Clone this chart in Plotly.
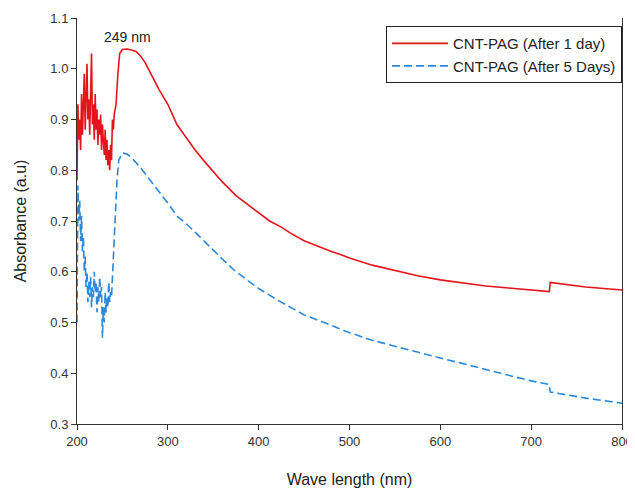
import plotly.graph_objects as go

# Wavelength (nm) and absorbance for CNT-PAG after 1 day
wl_day1 = [200, 201, 202, 203, 204, 205, 206, 207, 208, 209, 210, 211, 212, 213, 214, 215,
           216, 217, 218, 219, 220, 221, 222, 223, 224, 225, 226, 227, 228, 229, 230, 231,
           232, 233, 234, 235, 236, 237, 238, 239, 240, 241, 243, 245, 247, 250, 255, 260,
           265, 270, 275, 280, 290, 300, 310, 320, 330, 340, 350, 360, 375, 390, 400, 412,
           425, 435, 450, 465, 480, 490, 500, 525, 550, 575, 600, 625, 650, 675, 700, 720,
           721, 740, 760, 780, 800]
abs_day1 = [0.78, 0.93, 0.86, 0.90, 0.84, 0.95, 0.87, 0.92, 0.99, 0.88, 0.96, 1.01, 0.90, 0.94,
            0.87, 0.97, 1.03, 0.89, 0.93, 0.86, 0.95, 0.88, 0.92, 0.85, 0.90, 0.87, 0.91, 0.84,
            0.89, 0.86, 0.83, 0.88, 0.82, 0.86, 0.81, 0.84, 0.80, 0.85, 0.82, 0.90, 0.88, 0.91,
            0.93, 0.99, 1.03, 1.038, 1.039, 1.037, 1.034, 1.025, 1.012, 0.995, 0.96, 0.93, 0.89,
            0.865, 0.84, 0.818, 0.798, 0.777, 0.75, 0.73, 0.715, 0.70, 0.688, 0.676, 0.661, 0.65,
            0.64, 0.634, 0.627, 0.613, 0.602, 0.592, 0.584, 0.578, 0.572, 0.568, 0.564, 0.561,
            0.579, 0.574, 0.570, 0.567, 0.564]

# Wavelength (nm) and absorbance for CNT-PAG after 5 days
wl_day5 = [200, 201, 202, 203, 204, 205, 206, 207, 208, 209, 210, 211, 212, 213, 214, 215,
           216, 217, 218, 219, 220, 221, 222, 223, 224, 225, 226, 227, 228, 229, 230, 231,
           232, 233, 234, 235, 236, 237, 238, 239, 240, 242, 244, 246, 250, 255, 260, 270,
           280, 290, 300, 310, 320, 330, 340, 350, 360, 375, 390, 400, 420, 435, 450, 475,
           490, 500, 525, 550, 575, 600, 625, 650, 675, 700, 720, 721, 740, 760, 780, 800]
abs_day5 = [0.50, 0.77, 0.70, 0.74, 0.66, 0.71, 0.64, 0.67, 0.60, 0.63, 0.57, 0.60, 0.54, 0.58,
            0.55, 0.59, 0.53, 0.57, 0.55, 0.60, 0.56, 0.58, 0.52, 0.57, 0.54, 0.59, 0.55, 0.57,
            0.47, 0.53, 0.50, 0.56, 0.52, 0.55, 0.53, 0.58, 0.54, 0.56, 0.55, 0.59, 0.62, 0.68,
            0.78, 0.82, 0.834, 0.832, 0.825, 0.805, 0.782, 0.757, 0.735, 0.71, 0.695, 0.678,
            0.66, 0.642, 0.625, 0.600, 0.58, 0.567, 0.545, 0.53, 0.515, 0.498, 0.487, 0.48,
            0.465, 0.453, 0.442, 0.43, 0.419, 0.407, 0.396, 0.385, 0.378, 0.363, 0.357, 0.351,
            0.346, 0.341]

x_ticks = [200, 300, 400, 500, 600, 700, 800]
y_ticks = [0.3, 0.4, 0.5, 0.6, 0.7, 0.8, 0.9, 1.0, 1.1]
y_tick_text = ["0.3", "0.4", "0.5", "0.6", "0.7", "0.8", "0.9", "1.0", "1.1"]

peak_label = "249 nm"
peak_label_pos = (256, 1.062)

FONT = "Liberation Sans, Arial, sans-serif"

fig = go.Figure()
fig.add_trace(go.Scatter(x=wl_day1, y=abs_day1, mode="lines",
                         name="CNT-PAG (After 1 day)",
                         line=dict(color="#e5141c", width=1.6)))
fig.add_trace(go.Scatter(x=wl_day5, y=abs_day5, mode="lines",
                         name="CNT-PAG (After 5 Days)",
                         line=dict(color="#2b88dc", width=1.6, dash="8px,4px")))

fig.add_annotation(x=peak_label_pos[0], y=peak_label_pos[1], text=peak_label,
                   showarrow=False, font=dict(size=14, color="#222", family=FONT))

# The page body adds an 8px margin, so the figure is sized to fit the 635x492 window.
fig.update_layout(
    width=627, height=484,
    margin=dict(l=69, r=13, t=10, b=68),
    paper_bgcolor="white", plot_bgcolor="white",
    font=dict(family=FONT, color="#333", size=13),
    showlegend=True,
    legend=dict(x=1, y=0.98, xanchor="right", yanchor="top",
                bordercolor="#222", borderwidth=1, bgcolor="white",
                font=dict(size=15, color="#222", family=FONT),
                tracegroupgap=0, itemwidth=56),
    xaxis=dict(range=[200, 800], tickvals=x_ticks, ticks="outside", ticklen=5,
               tickcolor="#333", showline=True, linecolor="#333", linewidth=1,
               showgrid=False, zeroline=False, automargin=False,
               title=dict(text="Wave length (nm)", font=dict(size=16, color="#222"), standoff=26),
               tickfont=dict(size=13, color="#333")),
    yaxis=dict(range=[0.3, 1.1], tickvals=y_ticks, ticktext=y_tick_text, ticks="outside",
               ticklen=5, tickcolor="#333", showline=True, linecolor="#333", linewidth=1,
               mirror=True, showgrid=False, zeroline=False, automargin=False,
               title=dict(text="Absorbance (a.u)", font=dict(size=16, color="#222"), standoff=19),
               tickfont=dict(size=13, color="#333")),
)

fig.write_html("out.html")
